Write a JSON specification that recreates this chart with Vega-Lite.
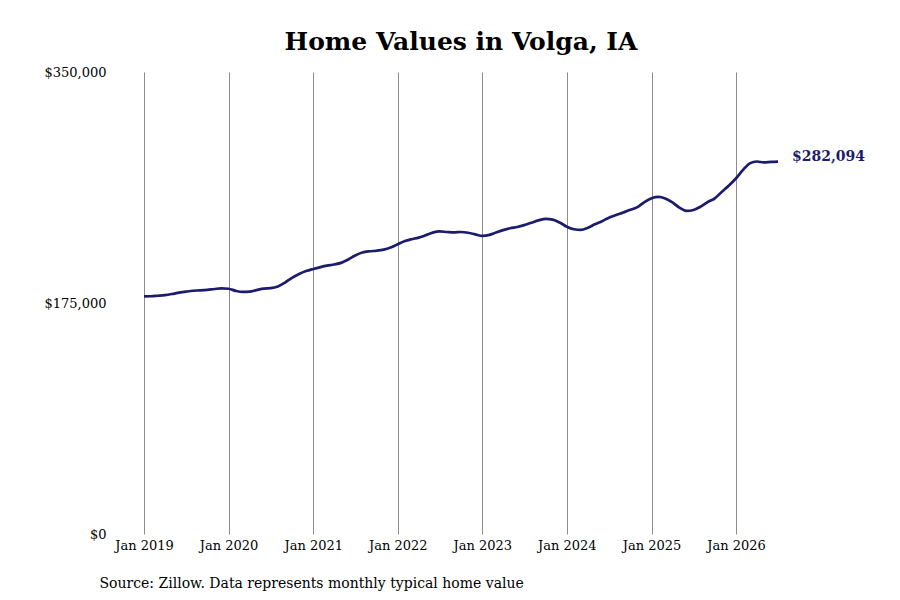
{
  "$schema": "https://vega.github.io/schema/vega-lite/v6.json",
  "width": 634,
  "height": 462,
  "autosize": "none",
  "padding": {"left": 144, "top": 72, "right": 122, "bottom": 66},
  "background": "white",
  "title": {
    "text": "Home Values in Volga, IA",
    "font": "DejaVu Serif",
    "fontSize": 25,
    "fontWeight": "bold",
    "color": "black",
    "anchor": "middle",
    "baseline": "alphabetic",
    "offset": 20,
    "dy": 29
  },
  "config": {
    "view": {"stroke": null},
    "font": "DejaVu Serif",
    "axis": {"titleFont": "DejaVu Serif", "labelFont": "DejaVu Serif"}
  },
  "data": {
    "values": [
      {"date": "2019-01-01", "value": 180000},
      {"date": "2019-02-01", "value": 180100},
      {"date": "2019-03-01", "value": 180500},
      {"date": "2019-04-01", "value": 181000},
      {"date": "2019-05-01", "value": 181800},
      {"date": "2019-06-01", "value": 182800},
      {"date": "2019-07-01", "value": 183600},
      {"date": "2019-08-01", "value": 184300},
      {"date": "2019-09-01", "value": 184600},
      {"date": "2019-10-01", "value": 185000},
      {"date": "2019-11-01", "value": 185600},
      {"date": "2019-12-01", "value": 186100},
      {"date": "2020-01-01", "value": 185800},
      {"date": "2020-02-01", "value": 184200},
      {"date": "2020-03-01", "value": 183400},
      {"date": "2020-04-01", "value": 183600},
      {"date": "2020-05-01", "value": 184800},
      {"date": "2020-06-01", "value": 185900},
      {"date": "2020-07-01", "value": 186200},
      {"date": "2020-08-01", "value": 187500},
      {"date": "2020-09-01", "value": 190500},
      {"date": "2020-10-01", "value": 194000},
      {"date": "2020-11-01", "value": 197000},
      {"date": "2020-12-01", "value": 199200},
      {"date": "2021-01-01", "value": 200800},
      {"date": "2021-02-01", "value": 202200},
      {"date": "2021-03-01", "value": 203300},
      {"date": "2021-04-01", "value": 204200},
      {"date": "2021-05-01", "value": 205400},
      {"date": "2021-06-01", "value": 208000},
      {"date": "2021-07-01", "value": 211000},
      {"date": "2021-08-01", "value": 213300},
      {"date": "2021-09-01", "value": 214200},
      {"date": "2021-10-01", "value": 214600},
      {"date": "2021-11-01", "value": 215400},
      {"date": "2021-12-01", "value": 217000},
      {"date": "2022-01-01", "value": 219500},
      {"date": "2022-02-01", "value": 221900},
      {"date": "2022-03-01", "value": 223300},
      {"date": "2022-04-01", "value": 224500},
      {"date": "2022-05-01", "value": 226300},
      {"date": "2022-06-01", "value": 228300},
      {"date": "2022-07-01", "value": 229200},
      {"date": "2022-08-01", "value": 228800},
      {"date": "2022-09-01", "value": 228500},
      {"date": "2022-10-01", "value": 228800},
      {"date": "2022-11-01", "value": 228200},
      {"date": "2022-12-01", "value": 227000},
      {"date": "2023-01-01", "value": 225800},
      {"date": "2023-02-01", "value": 226600},
      {"date": "2023-03-01", "value": 228400},
      {"date": "2023-04-01", "value": 230200},
      {"date": "2023-05-01", "value": 231600},
      {"date": "2023-06-01", "value": 232600},
      {"date": "2023-07-01", "value": 234000},
      {"date": "2023-08-01", "value": 235800},
      {"date": "2023-09-01", "value": 237600},
      {"date": "2023-10-01", "value": 238800},
      {"date": "2023-11-01", "value": 238200},
      {"date": "2023-12-01", "value": 236000},
      {"date": "2024-01-01", "value": 232800},
      {"date": "2024-02-01", "value": 230900},
      {"date": "2024-03-01", "value": 230400},
      {"date": "2024-04-01", "value": 232000},
      {"date": "2024-05-01", "value": 234600},
      {"date": "2024-06-01", "value": 237000},
      {"date": "2024-07-01", "value": 239600},
      {"date": "2024-08-01", "value": 241600},
      {"date": "2024-09-01", "value": 243500},
      {"date": "2024-10-01", "value": 245600},
      {"date": "2024-11-01", "value": 247600},
      {"date": "2024-12-01", "value": 251500},
      {"date": "2025-01-01", "value": 254400},
      {"date": "2025-02-01", "value": 255400},
      {"date": "2025-03-01", "value": 254200},
      {"date": "2025-04-01", "value": 251200},
      {"date": "2025-05-01", "value": 247300},
      {"date": "2025-06-01", "value": 244800},
      {"date": "2025-07-01", "value": 245500},
      {"date": "2025-08-01", "value": 248000},
      {"date": "2025-09-01", "value": 251500},
      {"date": "2025-10-01", "value": 254300},
      {"date": "2025-11-01", "value": 259300},
      {"date": "2025-12-01", "value": 264000},
      {"date": "2026-01-01", "value": 269500},
      {"date": "2026-02-01", "value": 276000},
      {"date": "2026-03-01", "value": 280800},
      {"date": "2026-04-01", "value": 282200},
      {"date": "2026-05-01", "value": 281500},
      {"date": "2026-06-01", "value": 281900},
      {"date": "2026-07-01", "value": 282094}
    ]
  },
  "encoding": {
    "x": {
      "field": "date",
      "type": "temporal",
      "scale": {
        "type": "utc",
        "domain": [
          {"year": 2019, "month": 1, "date": 1, "utc": true},
          {"year": 2026, "month": 7, "date": 1, "utc": true}
        ]
      },
      "axis": {
        "format": "%b %Y",
        "tickCount": {"interval": "year", "step": 1},
        "grid": true,
        "gridColor": "#8c8c8c",
        "gridWidth": 1,
        "domain": false,
        "ticks": false,
        "labelPadding": 5,
        "labelFont": "DejaVu Serif",
        "labelFontSize": 13,
        "labelColor": "black",
        "labelFlush": false,
        "title": "Source: Zillow. Data represents monthly typical home value",
        "titleFont": "DejaVu Serif",
        "titleFontSize": 14,
        "titleFontWeight": "normal",
        "titleColor": "black",
        "titleAnchor": "start",
        "titleAlign": "left",
        "titleBaseline": "alphabetic",
        "titleX": -45,
        "titleY": 53
      }
    },
    "y": {
      "field": "value",
      "type": "quantitative",
      "scale": {"domain": [0, 350000], "nice": false, "zero": true},
      "axis": {
        "values": [0, 175000, 350000],
        "format": "$,d",
        "grid": false,
        "domain": false,
        "ticks": false,
        "labelPadding": 38,
        "labelFont": "DejaVu Serif",
        "labelFontSize": 13,
        "labelColor": "black",
        "labelFlush": false,
        "title": null
      }
    }
  },
  "layer": [
    {
      "mark": {"type": "line", "color": "#1c1c6c", "strokeWidth": 2.7, "interpolate": "monotone"}
    },
    {
      "transform": [{"filter": "datum.value == 282094"}],
      "mark": {
        "type": "text",
        "align": "left",
        "baseline": "middle",
        "dx": 14,
        "dy": -5,
        "font": "DejaVu Serif",
        "fontSize": 14,
        "fontWeight": "bold",
        "color": "#1c1c6c"
      },
      "encoding": {
        "text": {"field": "value", "type": "quantitative", "format": "$,d"}
      }
    }
  ]
}
